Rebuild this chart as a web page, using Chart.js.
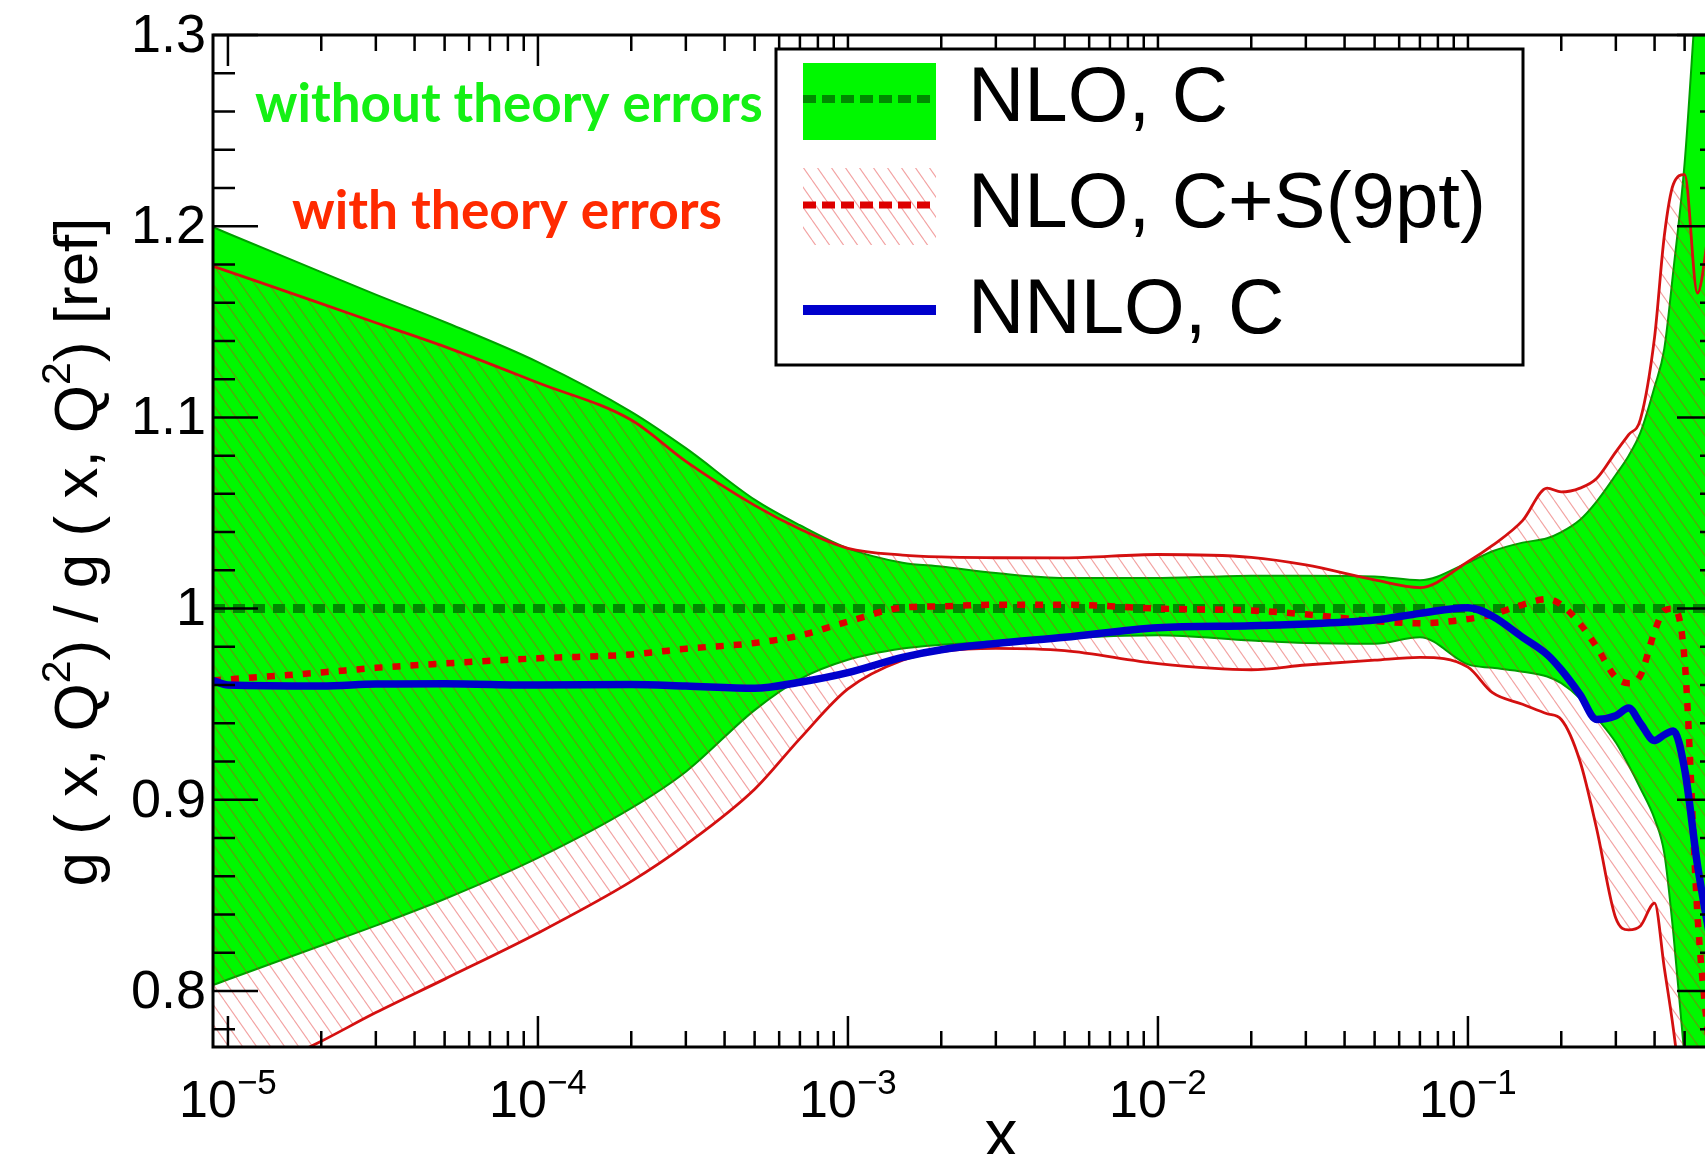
<!DOCTYPE html>
<html>
<head>
<meta charset="utf-8">
<title>Gluon ratio g(x,Q²)/g(x,Q²)[ref]</title>
<script src="https://cdn.jsdelivr.net/npm/chart.js@4.4.0/dist/chart.umd.min.js"></script>
<style>
    html, body { margin: 0; padding: 0; background: #fff; overflow: hidden; }
    #wrap { width: 1740px; height: 1154px; }
</style>
</head>
<body>
<div id="wrap"><canvas id="ratio-chart" width="1740" height="1154"></canvas></div>
<script>
// x grid shared by all curves (log axis)
const xGrid = [8.95e-6, 1e-5, 2e-5, 3e-5, 5e-5, 1e-4, 2e-4, 3e-4, 5e-4, 7e-4,
    1e-3, 1.5e-3, 2e-3, 3e-3, 5e-3, 1e-2, 2e-2, 3e-2, 5e-2, 7e-2,
    0.1, 0.12, 0.15, 0.18, 0.2, 0.23, 0.26, 0.3, 0.33, 0.36, 0.4, 0.43, 0.46, 0.5, 0.55, 0.6, 0.66];

// NLO, C band (no theory errors)
const nloUpper = [1.1995, 1.1962, 1.176, 1.1642, 1.1499, 1.1289, 1.1029, 1.0839, 1.057, 1.0436,
    1.0315, 1.024, 1.022, 1.0186, 1.016, 1.016, 1.0172, 1.0172, 1.0168, 1.0148,
    1.024, 1.030, 1.0345, 1.0368, 1.040, 1.0465, 1.056, 1.070, 1.080, 1.092, 1.116, 1.136, 1.177, 1.233, 1.33, 1.40, 1.45];
const nloLower = [0.8031, 0.806, 0.8238, 0.8342, 0.8481, 0.8696, 0.8956, 0.9147, 0.9469, 0.9631,
    0.9732, 0.9791, 0.9811, 0.9828, 0.9846, 0.986, 0.9833, 0.982, 0.9816, 0.985,
    0.9708, 0.969, 0.967, 0.9645, 0.961, 0.953, 0.943, 0.930, 0.918, 0.906, 0.89, 0.872, 0.83, 0.765, 0.70, 0.65, 0.6];

// NLO, C+S(9pt) band (with theory errors)
const nloSUpper = [1.1791, 1.1764, 1.1595, 1.1495, 1.1370, 1.1181, 1.0986, 1.077, 1.054, 1.0416,
    1.0315, 1.0280, 1.0270, 1.0266, 1.0265, 1.0283, 1.0268, 1.0228, 1.0150, 1.0110,
    1.0245, 1.033, 1.046, 1.063, 1.061, 1.063, 1.068, 1.082, 1.091, 1.099, 1.142, 1.195, 1.222, 1.227, 1.165, 1.20, 1.25];
const nloSLower = [0.745, 0.750, 0.7737, 0.7887, 0.8062, 0.8303, 0.8573, 0.8765, 0.9055, 0.932,
    0.958, 0.973, 0.9775, 0.9792, 0.978, 0.9712, 0.968, 0.9705, 0.973, 0.9745,
    0.9694, 0.956, 0.950, 0.945, 0.942, 0.92, 0.885, 0.838, 0.832, 0.834, 0.846, 0.812, 0.78, 0.73, 0.65, 0.6, 0.55];

// central values
const nloSCentral = [0.9625, 0.963, 0.9666, 0.969, 0.9713, 0.974, 0.976, 0.979, 0.982, 0.9859,
    0.9932, 1.0005, 1.0012, 1.002, 1.002, 1.0, 0.999, 0.997, 0.9935, 0.9923,
    0.9945, 0.997, 1.002, 1.005, 1.002, 0.992, 0.98, 0.964, 0.961, 0.965, 0.988, 0.999, 1.0, 0.973, 0.84, 0.77, 0.7];
const nnloCentral = [0.9624, 0.960, 0.9595, 0.9605, 0.9607, 0.960, 0.9603, 0.9595, 0.9583, 0.9615,
    0.9665, 0.9745, 0.9785, 0.9817, 0.985, 0.990, 0.991, 0.992, 0.994, 0.9975,
    1.0005, 0.996, 0.985, 0.976, 0.968, 0.955, 0.942, 0.944, 0.948, 0.94, 0.931, 0.934, 0.936, 0.916, 0.866, 0.83, 0.79];
const refX = [8.95e-6, 0.66];
const refY = [1, 1];

// axes
const xMin = 8.95e-6, xMax = 0.66;
const yMin = 0.7707, yMax = 1.3;
const yTickValues = [0.8, 0.9, 1.0, 1.1, 1.2, 1.3];
const yTickLabels = ['0.8', '0.9', '1', '1.1', '1.2', '1.3'];
const xDecades = [-5, -4, -3, -2, -1, 0];

const legendLabels = ['NLO, C', 'NLO, C+S(9pt)', 'NNLO, C'];
const noteWithout = 'without theory errors';
const noteWith = 'with theory errors';

const AXIS_FONT = '"Liberation Sans", Arial, sans-serif';
const NOTE_FONT = 'Lato, "Open Sans", sans-serif';
const GREEN_FILL = '#00f800';
const GREEN_EDGE = '#00a000';
const RED_EDGE = '#d41010';

function toPoints(xs, ys) {
    return xs.map((x, i) => ({ x: x, y: ys[i] }));
}

// diagonal red hatching used for the C+S band
function makeHatch(ctx) {
    const w = 14, h = 20;
    const tile = document.createElement('canvas');
    tile.width = w;
    tile.height = h;
    const g = tile.getContext('2d');
    g.strokeStyle = 'rgba(225, 30, 30, 0.42)';
    g.lineWidth = 1.15;
    for (let k = -1; k <= 1; k++) {
        g.beginPath();
        g.moveTo(k * w, 0);
        g.lineTo(k * w + w, h);
        g.stroke();
    }
    return ctx.createPattern(tile, 'repeat');
}

// text with superscripts: parts = [[text, isSup], ...]
function partsWidth(ctx, parts, size, supSize) {
    let w = 0;
    parts.forEach(p => {
        ctx.font = (p[1] ? supSize : size) + 'px ' + AXIS_FONT;
        w += ctx.measureText(p[0]).width;
    });
    return w;
}

function drawParts(ctx, parts, x, y, size, supSize, supRise) {
    let cx = x;
    ctx.textAlign = 'left';
    ctx.textBaseline = 'alphabetic';
    parts.forEach(p => {
        ctx.font = (p[1] ? supSize : size) + 'px ' + AXIS_FONT;
        ctx.fillText(p[0], cx, p[1] ? y - supRise : y);
        cx += ctx.measureText(p[0]).width;
    });
}

function fitFont(ctx, text, weight, family, width, guess) {
    ctx.font = weight + ' ' + guess + 'px ' + family;
    return guess * width / ctx.measureText(text).width;
}

const decorPlugin = {
    id: 'plotDecor',
    afterDatasetsDraw(chart) {
        const ctx = chart.ctx;
        const area = chart.chartArea;
        const xs = chart.scales.x;
        const ys = chart.scales.y;
        ctx.save();

        // frame
        ctx.strokeStyle = '#000';
        ctx.lineWidth = 3;
        ctx.strokeRect(area.left, area.top, area.right - area.left, area.bottom - area.top);

        // x ticks, inward on bottom and top
        ctx.lineWidth = 2.5;
        ctx.beginPath();
        xDecades.forEach(d => {
            for (let m = 1; m <= 9; m++) {
                const v = m * Math.pow(10, d);
                if (v < xMin || v > xMax) continue;
                const px = xs.getPixelForValue(v);
                const len = m === 1 ? 31 : 16;
                ctx.moveTo(px, area.bottom);
                ctx.lineTo(px, area.bottom - len);
                ctx.moveTo(px, area.top);
                ctx.lineTo(px, area.top + len);
            }
        });
        // y ticks every 0.02, inward on left and right
        for (let k = 39; k <= 65; k++) {
            const py = ys.getPixelForValue(k / 50);
            const len = k % 5 === 0 ? 45 : 22;
            ctx.moveTo(area.left, py);
            ctx.lineTo(area.left + len, py);
            ctx.moveTo(area.right, py);
            ctx.lineTo(area.right - len, py);
        }
        ctx.stroke();

        // y tick labels
        ctx.fillStyle = '#000';
        ctx.font = '54px ' + AXIS_FONT;
        ctx.textAlign = 'right';
        ctx.textBaseline = 'middle';
        yTickValues.forEach((v, i) => {
            ctx.fillText(yTickLabels[i], area.left - 7, ys.getPixelForValue(v) + 2);
        });

        // x tick labels 10^n
        xDecades.forEach(d => {
            const v = Math.pow(10, d);
            if (v < xMin || v > xMax) return;
            const parts = [['10', false], ['\u2212' + Math.abs(d), true]];
            const w = partsWidth(ctx, parts, 52, 35);
            drawParts(ctx, parts, xs.getPixelForValue(v) - w / 2, 1117, 52, 35, 23);
        });

        // axis titles
        ctx.font = '66px ' + AXIS_FONT;
        ctx.textAlign = 'center';
        ctx.textBaseline = 'alphabetic';
        ctx.fillText('x', 1001, 1156);

        const yTitle = [['g ( x, Q', false], ['2', true], [') / g ( x, Q', false], ['2', true], [') [ref]', false]];
        const tw = partsWidth(ctx, yTitle, 62, 41);
        ctx.save();
        ctx.translate(97, 552);
        ctx.rotate(-Math.PI / 2);
        drawParts(ctx, yTitle, -tw / 2, 0, 62, 41, 27);
        ctx.restore();

        // band notes
        let fs = fitFont(ctx, noteWithout, 'bold', NOTE_FONT, 508, 48);
        ctx.font = 'bold ' + fs + 'px ' + NOTE_FONT;
        ctx.fillStyle = '#14f014';
        ctx.textAlign = 'left';
        ctx.fillText(noteWithout, 255, 122);
        fs = fitFont(ctx, noteWith, 'bold', NOTE_FONT, 430, 48);
        ctx.font = 'bold ' + fs + 'px ' + NOTE_FONT;
        ctx.fillStyle = '#ff2a00';
        ctx.fillText(noteWith, 292, 229);

        // legend
        const lx = 776, ly = 49, lw = 747, lh = 316;
        ctx.fillStyle = '#fff';
        ctx.fillRect(lx, ly, lw, lh);
        ctx.strokeStyle = '#000';
        ctx.lineWidth = 3;
        ctx.strokeRect(lx, ly, lw, lh);

        const sx = 803, sw = 133;
        ctx.fillStyle = GREEN_FILL;
        ctx.fillRect(sx, 63, sw, 77);
        ctx.fillStyle = hatch;
        ctx.fillRect(sx, 168, sw, 77);

        const swatchLine = (y, color, width, dash) => {
            ctx.strokeStyle = color;
            ctx.lineWidth = width;
            ctx.setLineDash(dash);
            ctx.beginPath();
            ctx.moveTo(sx, y);
            ctx.lineTo(sx + sw, y);
            ctx.stroke();
        };
        swatchLine(99, '#008a00', 8, [13, 6]);
        swatchLine(205, '#dd0000', 7, [13, 6]);
        swatchLine(310, '#0000cc', 10, []);
        ctx.setLineDash([]);

        ctx.fillStyle = '#000';
        ctx.font = '78px ' + AXIS_FONT;
        ctx.textAlign = 'left';
        ctx.textBaseline = 'alphabetic';
        legendLabels.forEach((t, i) => ctx.fillText(t, 968, 121 + i * 106));

        ctx.restore();
    }
};

const chartEl = document.getElementById('ratio-chart');
const hatch = makeHatch(chartEl.getContext('2d'));

new Chart(chartEl, {
    type: 'line',
    data: {
        datasets: [
            {
                label: 'NLO, C upper',
                data: toPoints(xGrid, nloUpper),
                borderColor: GREEN_EDGE,
                borderWidth: 2,
                backgroundColor: GREEN_FILL,
                fill: '+1',
                order: 10
            },
            {
                label: 'NLO, C lower',
                data: toPoints(xGrid, nloLower),
                borderColor: GREEN_EDGE,
                borderWidth: 2,
                fill: false,
                order: 9
            },
            {
                label: 'NLO, C+S(9pt) upper',
                data: toPoints(xGrid, nloSUpper),
                borderColor: RED_EDGE,
                borderWidth: 2.8,
                backgroundColor: hatch,
                fill: '+1',
                order: 8
            },
            {
                label: 'NLO, C+S(9pt) lower',
                data: toPoints(xGrid, nloSLower),
                borderColor: RED_EDGE,
                borderWidth: 2.8,
                fill: false,
                order: 7
            },
            {
                label: 'NLO, C',
                data: toPoints(refX, refY),
                borderColor: '#008a00',
                borderWidth: 9,
                borderDash: [12, 8],
                fill: false,
                order: 4
            },
            {
                label: 'NLO, C+S(9pt)',
                data: toPoints(xGrid, nloSCentral),
                borderColor: '#dd0000',
                borderWidth: 6.5,
                borderDash: [8, 10],
                fill: false,
                order: 3
            },
            {
                label: 'NNLO, C',
                data: toPoints(xGrid, nnloCentral),
                borderColor: '#0000cc',
                borderWidth: 7.5,
                fill: false,
                order: 2
            }
        ]
    },
    options: {
        responsive: false,
        animation: false,
        layout: {
            padding: { left: 213, top: 35, right: 18, bottom: 107 }
        },
        elements: {
            point: { radius: 0, hoverRadius: 0 },
            line: { cubicInterpolationMode: 'monotone', borderCapStyle: 'butt' }
        },
        scales: {
            x: { type: 'logarithmic', min: xMin, max: xMax, display: false },
            y: { type: 'linear', min: yMin, max: yMax, display: false }
        },
        plugins: {
            legend: { display: false },
            tooltip: { enabled: false },
            filler: { propagate: false }
        }
    },
    plugins: [decorPlugin]
});
</script>
</body>
</html>
